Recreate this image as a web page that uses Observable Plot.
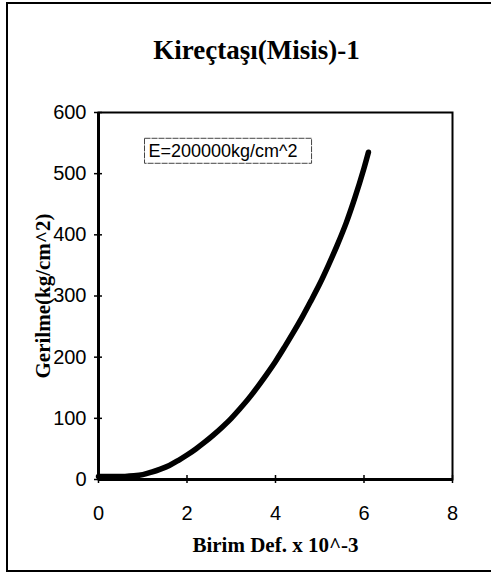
<!DOCTYPE html>
<html><head><meta charset="utf-8">
<script src="https://cdn.jsdelivr.net/npm/d3@7"></script>
<script src="https://cdn.jsdelivr.net/npm/@observablehq/plot@0.6"></script>
<style>
body{margin:0;background:#fff;}
#wrap{position:relative;width:491px;height:575px;overflow:hidden;background:#fff;}
#border{position:absolute;left:6px;top:2px;width:540px;height:566px;border:2px solid #000;border-right:none;pointer-events:none;}
</style></head><body><div id="wrap"><div id="chart"></div><div id="border"></div></div>
<script>
// Data
const strain = [0,0.2,0.4,0.6,0.8,1.0,1.2,1.4,1.6,1.8,2.0,2.2,2.4,2.6,2.8,3.0,3.2,3.4,3.6,3.8,4.0,4.2,4.4,4.6,4.8,5.0,5.2,5.4,5.6,5.8,6.0,6.1];
const stress = [5,5,5,5,6,8,12,17,23,31,40,50,61,73,86,100,116,133,152,172,193,216,240,265,292,320,351,384,420,462,509,535];
const xTicks = [0,2,4,6,8];
const yTicks = [0,100,200,300,400,500,600];
const titleText = "Kireçtaşı(Misis)-1";
const xLabel = "Birim Def. x 10^-3";
const yLabel = "Gerilme(kg/cm^2)";
const noteText = ["E=200000kg/cm^2"];
const noteX = [1.13];
const noteY = [537];

const curve = strain.map((x, i) => ({x, y: stress[i]}));
const notes = noteText.map((t, i) => ({t, x: noteX[i], y: noteY[i]}));

const serif = "'Liberation Serif', 'Times New Roman', serif";
const sans = "'Liberation Sans', Arial, sans-serif";

const chart = Plot.plot({
  width: 491,
  height: 575,
  marginLeft: 98,
  marginRight: 39,
  marginTop: 112,
  marginBottom: 96,
  style: {fontFamily: sans, background: "#fff", color: "#000"},
  x: {domain: [0, 8]},
  y: {domain: [0, 600]},
  marks: [
    Plot.frame({stroke: "#000", strokeWidth: 2}),
    Plot.ruleX([0], {stroke: "#000", strokeWidth: 3}),
    Plot.ruleY([0], {stroke: "#000", strokeWidth: 3}),
    Plot.axisY({ticks: yTicks, tickSize: 8, dx: 4, tickPadding: 8, fontSize: 20, label: null, tickFormat: d => d, strokeWidth: 1.5}),
    Plot.axisX({ticks: xTicks, tickSize: 8, dy: -4, tickPadding: 22, fontSize: 20, label: null, tickFormat: d => d, strokeWidth: 1.5}),
    Plot.line(curve, {x: "x", y: "y", stroke: "#000", strokeWidth: 5.5, curve: "catmull-rom", strokeLinecap: "round"}),
    Plot.text(notes, {x: "x", y: "y", text: "t", textAnchor: "start", fontSize: 18, fontFamily: sans, fill: "#000", className: "note"}),
    Plot.text([titleText], {text: d => d, frameAnchor: "top", textAnchor: "middle", lineAnchor: "bottom", dy: -54, dx: -19, fontSize: 27, fontWeight: "bold", fontFamily: serif, fill: "#000"}),
    Plot.text([xLabel], {text: d => d, frameAnchor: "bottom", textAnchor: "middle", lineAnchor: "bottom", dy: 72, fontSize: 21, fontWeight: "bold", fontFamily: serif, fill: "#000"}),
    Plot.text([yLabel], {text: d => d, frameAnchor: "left", textAnchor: "middle", lineAnchor: "bottom", rotate: -90, dx: -49, fontSize: 21, fontWeight: "bold", fontFamily: serif, fill: "#000"})
  ]
});
document.getElementById("chart").appendChild(chart);

// Draw a box around the annotation text
chart.querySelectorAll(".note text").forEach(t => {
  const b = t.getBBox();
  const g = t.parentNode;
  const r = document.createElementNS("http://www.w3.org/2000/svg", "rect");
  r.setAttribute("x", b.x - 4);
  r.setAttribute("y", b.y - 2.5);
  r.setAttribute("width", b.width + 18);
  r.setAttribute("height", b.height + 5);
  r.setAttribute("fill", "none");
  r.setAttribute("stroke", "#444");
  r.setAttribute("stroke-width", 1);
  r.setAttribute("stroke-dasharray", "6,1");
  if (t.getAttribute("transform")) r.setAttribute("transform", t.getAttribute("transform"));
  g.insertBefore(r, t);
});
</script>
</body></html>
